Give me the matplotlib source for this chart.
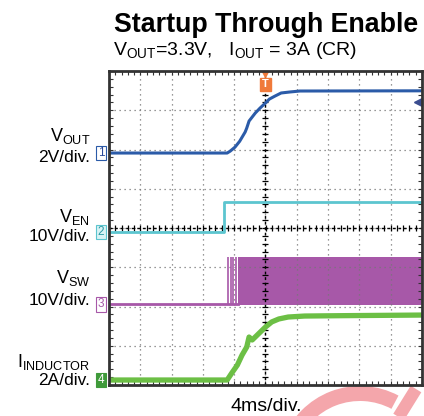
import numpy as np
import matplotlib.pyplot as plt
import matplotlib.transforms as mtrans
from matplotlib.patches import Wedge

plt.rcParams['font.family'] = ['Liberation Sans', 'DejaVu Sans']
plt.rcParams['mathtext.fontset'] = 'custom'
plt.rcParams['mathtext.rm'] = 'Liberation Sans'
plt.rcParams['mathtext.it'] = 'Liberation Sans:italic'
plt.rcParams['mathtext.bf'] = 'Liberation Sans:bold'

#%% datos (tiempo en ms, trigger en 0)
t_vout = [-20, -4.9, -4.5, -3.9, -3.3, -2.6, -2.4, -2.1, -1.3, -0.7, 0, 0.5, 1.2, 2.0, 3.1, 4.4, 20]
v_vout = [0, 0, 0.1, 0.3, 0.6, 1.07, 1.27, 1.63, 2.04, 2.29, 2.55, 2.75, 2.9, 3.06, 3.11, 3.16, 3.17]

t_en = [-20, -5.3, -5.3, 20]
v_en = [0, 0, 7.6, 7.6]

t_sw = [-20, -3.55]
v_sw = [0, 0]
t_sw_spk = [-4.75, -4.45, -4.11, -3.81]   # primeros pulsos
t_sw_band = [-3.55, 20]
v_sw_hi = [12, 12]
v_sw_lo = [-0.2, -0.2]

t_il = [-20, -4.9, -4.3, -3.6, -3.0, -2.4, -2.1, -1.7, -0.8, 0, 0.8, 1.7, 2.9, 5.0, 10.1, 20]
i_il = [0, 0, 0.36, 0.76, 1.27, 1.68, 2.19, 2.04, 2.39, 2.7, 2.96, 3.11, 3.21, 3.26, 3.28, 3.31]

# offset (div) y escala (unidad/div) de cada canal
off = [5.91, 3.90, 2.06, 0.127]
esc = [2, 10, 10, 2]
trig_lvl = 2.6

c_out = '#2b5ba8'
c_en = '#5cc5cf'
c_sw = '#a758a8'
c_il = '#6cbf45'
c_trig = '#f07a3a'

def dv(v, ch):
    return off[ch] + np.array(v) / esc[ch]

def px(x, y):
    return x / 424, 1 - y / 416

#%% figura
fig = plt.figure(figsize=(4.24, 4.16), dpi=100)

# marca de agua
bg = fig.add_axes([0, 0, 1, 1], zorder=0)
bg.set_xlim(0, 424)
bg.set_ylim(416, 0)
bg.axis('off')
bg.add_patch(Wedge((360, 468), 82, 200, 298, width=15, color='#f4a6ab', lw=0))
bg.plot([416, 398], [389, 418], color='#f4a6ab', lw=9, solid_capstyle='butt')

ax = fig.add_axes([109/424, 1-385/416, 313/424, 314/416], zorder=1)
ax.set_xlim(-20, 20)
ax.set_ylim(0, 8)
ax.set_xticks(np.arange(-20, 21, 4))
ax.set_yticks(np.arange(0, 9, 1))
ax.set_xticks(np.arange(-20, 20.1, 0.8), minor=True)
ax.set_yticks(np.arange(0, 8.01, 0.2), minor=True)
ax.tick_params(which='both', direction='in', top=True, right=True,
               labelbottom=False, labelleft=False, length=3, width=0.8, color='#333333')
ax.grid(which='major', color='#777777', linestyle=(0, (1, 3)), lw=0.9)
for s in ax.spines.values():
    s.set_linewidth(2)
    s.set_color('#333333')

# ejes centrales con marcas
ax.axvline(0, color='k', ls=(0, (2, 2)), lw=1)
ax.axhline(4, color='k', ls=(0, (2, 2)), lw=1)
yy = np.arange(0, 8.01, 0.2)
ax.plot(np.zeros_like(yy), yy, ls='none', marker='_', ms=5, mew=0.9, color='k')
xx = np.arange(-20, 20.01, 0.8)
ax.plot(xx, np.full_like(xx, 4), ls='none', marker='|', ms=5, mew=0.9, color='k')

# trazas
ax.plot(t_en, dv(v_en, 1), color=c_en, lw=2)
ax.plot(t_sw, dv(v_sw, 2), color=c_sw, lw=2)
ax.vlines(t_sw_spk, dv([0], 2)[0], dv([12], 2)[0], color=c_sw, lw=1.2)
ax.fill_between(t_sw_band, dv(v_sw_lo, 2), dv(v_sw_hi, 2), color=c_sw, lw=0)
ax.plot(t_il, dv(i_il, 3), color=c_il, lw=3.8, solid_joinstyle='round')
ax.plot(t_vout, dv(v_vout, 0), color=c_out, lw=2.2)

# marcadores de canal
tr = mtrans.blended_transform_factory(ax.transAxes, ax.transData)
mk = [('1', 'white', c_out, '#2b4a9a'), ('2', '#d9f3f5', c_en, '#2a9aa5'),
      ('3', 'white', c_sw, c_sw), ('4', '#3f9a3a', '#3f9a3a', 'white')]
for i, (lab, fc, ec, tc) in enumerate(mk):
    ax.text(-0.026, off[i], lab, transform=tr, ha='center', va='center', fontsize=8.5,
            color=tc, clip_on=False,
            bbox=dict(boxstyle='square,pad=0.12', fc=fc, ec=ec, lw=0.8))

# trigger
ax.plot([19.5], [off[0] + trig_lvl / esc[0]], marker='<', ms=6, color='#3a4d8f', clip_on=False)
ax.plot([0], [7.93], marker='v', ms=5, color=c_trig, clip_on=False)
ax.text(0, 7.66, 'T', ha='center', va='center', fontsize=8, color='white', fontweight='bold',
        bbox=dict(boxstyle='square,pad=0.15', fc=c_trig, ec=c_trig))

#%% textos
fig.text(*px(266, 32), 'Startup Through Enable', ha='center', va='baseline',
         fontsize=19.3, fontweight='bold')
fig.text(*px(113, 55), r'V$_{\mathrm{OUT}}$=3.3V,   I$_{\mathrm{OUT}}$ = 3A (CR)',
         ha='left', va='baseline', fontsize=14)
lab = [(r'V$_{\mathrm{OUT}}$', 141, '2V/div.', 162),
       (r'V$_{\mathrm{EN}}$', 222, '10V/div.', 241),
       (r'V$_{\mathrm{SW}}$', 283, '10V/div.', 305),
       (r'I$_{\mathrm{INDUCTOR}}$', 367, '2A/div.', 385)]
for a, ya, b, yb in lab:
    fig.text(*px(90, ya), a, ha='right', va='baseline', fontsize=13)
    fig.text(*px(90, yb), b, ha='right', va='baseline', fontsize=12.5)
fig.text(*px(230, 411), '4ms/div.', ha='left', va='baseline', fontsize=14)

fig.savefig('out.png', dpi=100)
